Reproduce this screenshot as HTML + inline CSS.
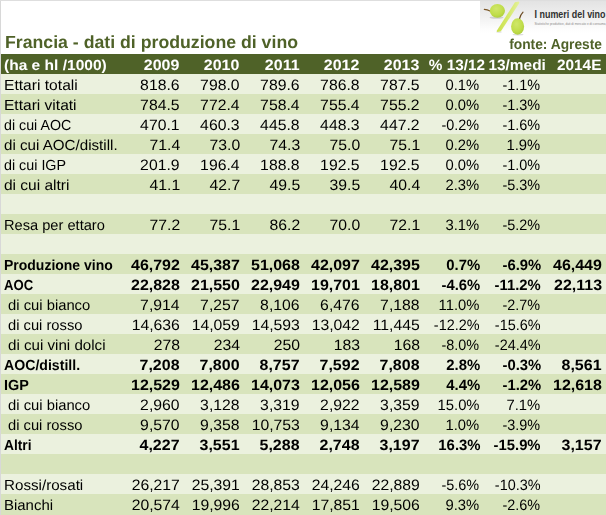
<!DOCTYPE html>
<html><head><meta charset="utf-8"><title>Francia</title>
<style>
html,body{margin:0;padding:0;background:#fff;}
body{width:606px;height:515px;position:relative;overflow:hidden;font-family:"Liberation Sans",sans-serif;color:#000;}
.r{position:absolute;left:0;width:606px;height:20px;}
.a{background:#ebf1de;}
.b{background:#d8e4bc;}
.h{background:#4f6228;color:#fff;font-weight:bold;}
.l{position:absolute;top:2px;height:20px;line-height:21px;font-size:14.6px;white-space:nowrap;text-rendering:geometricPrecision;transform-origin:0 50%;}
.n{position:absolute;top:1px;height:20px;line-height:21px;font-size:15.0px;white-space:nowrap;text-rendering:geometricPrecision;text-align:right;transform-origin:100% 50%;}
.bd{font-weight:bold;}
#title{position:absolute;left:4.54px;top:29.6px;font-size:17.6px;font-weight:bold;color:#4f6228;line-height:24px;white-space:nowrap;text-rendering:geometricPrecision;transform-origin:0 50%;transform:scaleX(1.0059);}
#fonte{position:absolute;right:3.92px;top:35px;font-size:14.4px;font-weight:bold;color:#4f6228;line-height:20px;white-space:nowrap;text-rendering:geometricPrecision;transform-origin:100% 50%;transform:scaleX(0.9569);}
#lb{position:absolute;left:0;top:0;width:1px;height:515px;background:#d8d8d8;}
#tb{position:absolute;left:0;top:0;width:606px;height:1px;background:#dedede;}
#logo{position:absolute;left:480px;top:0;width:126px;height:38px;}
</style></head><body>

<div id="logo"><svg width="126" height="38" viewBox="0 0 126 38">
<defs>
<linearGradient id="g0" x1="0" y1="0" x2="0" y2="1"><stop offset="0" stop-color="#e3e3e3"/><stop offset="0.45" stop-color="#efefef"/><stop offset="0.85" stop-color="#fcfcfc"/><stop offset="1" stop-color="#ffffff"/></linearGradient>
<radialGradient id="g1" cx="0.42" cy="0.35" r="0.75"><stop offset="0" stop-color="#d0e76a"/><stop offset="0.6" stop-color="#c0dd4a"/><stop offset="1" stop-color="#a8c93a"/></radialGradient>
<linearGradient id="g2" x1="0" y1="0" x2="1" y2="0.25"><stop offset="0" stop-color="#c2dc38"/><stop offset="0.55" stop-color="#d4e866"/><stop offset="1" stop-color="#e6f2a4"/></linearGradient>
<filter id="bl" x="-20%" y="-100%" width="140%" height="300%"><feGaussianBlur stdDeviation="0.6"/></filter>
</defs>
<rect x="0" y="1" width="126" height="32" fill="url(#g0)"/>
<ellipse cx="16.5" cy="17.6" rx="7" ry="1.1" fill="#cfcfcf" filter="url(#bl)"/>
<ellipse cx="38" cy="34.6" rx="5.5" ry="0.9" fill="#dcdcdc" filter="url(#bl)"/>
<ellipse cx="19" cy="32" rx="3" ry="0.8" fill="#dedede" filter="url(#bl)"/>
<path d="M35 2.3 L38.8 1.5 L39.5 2.7 L20.9 31.3 L17.3 32.1 L16.6 30.9 Z" fill="url(#g2)"/>
<path d="M4.3 9.4 Q7 9.6 10.6 11.2" stroke="#7a5526" stroke-width="1.1" fill="none" stroke-linecap="round"/>
<ellipse cx="17.4" cy="10.8" rx="7.6" ry="6.9" fill="url(#g1)"/>
<path d="M39.4 19 Q40.4 14.8 43 12.2" stroke="#6b4a22" stroke-width="1.2" fill="none" stroke-linecap="round"/>
<ellipse cx="37.6" cy="26.5" rx="6.5" ry="8.3" fill="url(#g1)"/>
<text x="54.5" y="18" font-family="Liberation Sans, sans-serif" font-weight="bold" font-size="10.5" fill="#303030" textLength="71" lengthAdjust="spacingAndGlyphs">I numeri del vino</text>
<text x="54.5" y="24.6" font-family="Liberation Sans, sans-serif" font-size="3.6" fill="#8a8a8a" textLength="72" lengthAdjust="spacingAndGlyphs">Statistiche produttive, dati di mercato e di consumo,</text>
</svg></div>

<div id="title">Francia - dati di produzione di vino</div>
<div id="fonte">fonte: Agreste</div>
<div class="r h" style="top:54px"><span class="l bd" style="left:3.90px;transform:scaleX(1.0642)">(ha e hl /1000)</span><span class="n bd" style="right:426.4px;transform:scaleX(1.0657)">2009</span><span class="n bd" style="right:366.4px;transform:scaleX(1.0657)">2010</span><span class="n bd" style="right:306.4px;transform:scaleX(1.0657)">2011</span><span class="n bd" style="right:246.4px;transform:scaleX(1.0657)">2012</span><span class="n bd" style="right:186.4px;transform:scaleX(1.0657)">2013</span><span class="n bd" style="right:121.1px;transform:scaleX(1.0218)">% 13/12</span><span class="n bd" style="right:60.3px;transform:scaleX(1.0281)">13/medi</span><span class="n bd" style="right:4.8px;transform:scaleX(1.0243)">2014E</span></div>
<div class="r a" style="top:74px"><span class="l" style="left:4.46px;transform:scaleX(1.0697)">Ettari totali</span><span class="n" style="right:426.1px;transform:scaleX(1.0500)">818.6</span><span class="n" style="right:366.1px;transform:scaleX(1.0500)">798.0</span><span class="n" style="right:306.1px;transform:scaleX(1.0500)">789.6</span><span class="n" style="right:246.1px;transform:scaleX(1.0500)">786.8</span><span class="n" style="right:186.1px;transform:scaleX(1.0500)">787.5</span><span class="n" style="right:126.5px;transform:scaleX(0.9870)">0.1%</span><span class="n" style="right:65.5px;transform:scaleX(0.9608)">-1.1%</span></div>
<div class="r b" style="top:94px"><span class="l" style="left:4.47px;transform:scaleX(1.0652)">Ettari vitati</span><span class="n" style="right:426.1px;transform:scaleX(1.0500)">784.5</span><span class="n" style="right:366.1px;transform:scaleX(1.0500)">772.4</span><span class="n" style="right:306.1px;transform:scaleX(1.0500)">758.4</span><span class="n" style="right:246.1px;transform:scaleX(1.0500)">755.4</span><span class="n" style="right:186.1px;transform:scaleX(1.0500)">755.2</span><span class="n" style="right:126.5px;transform:scaleX(0.9870)">0.0%</span><span class="n" style="right:65.5px;transform:scaleX(0.9608)">-1.3%</span></div>
<div class="r a" style="top:114px"><span class="l" style="left:4.21px;transform:scaleX(0.9756)">di cui AOC</span><span class="n" style="right:426.1px;transform:scaleX(1.0500)">470.1</span><span class="n" style="right:366.1px;transform:scaleX(1.0500)">460.3</span><span class="n" style="right:306.1px;transform:scaleX(1.0500)">445.8</span><span class="n" style="right:246.1px;transform:scaleX(1.0500)">448.3</span><span class="n" style="right:186.1px;transform:scaleX(1.0500)">447.2</span><span class="n" style="right:126.5px;transform:scaleX(0.9608)">-0.2%</span><span class="n" style="right:65.5px;transform:scaleX(0.9608)">-1.6%</span></div>
<div class="r b" style="top:134px"><span class="l" style="left:4.18px;transform:scaleX(1.0376)">di cui AOC/distill.</span><span class="n" style="right:426.1px;transform:scaleX(1.0500)">71.4</span><span class="n" style="right:366.1px;transform:scaleX(1.0500)">73.0</span><span class="n" style="right:306.1px;transform:scaleX(1.0500)">74.3</span><span class="n" style="right:246.1px;transform:scaleX(1.0500)">75.0</span><span class="n" style="right:186.1px;transform:scaleX(1.0500)">75.1</span><span class="n" style="right:126.5px;transform:scaleX(0.9870)">0.2%</span><span class="n" style="right:65.5px;transform:scaleX(0.9870)">1.9%</span></div>
<div class="r a" style="top:154px"><span class="l" style="left:4.21px;transform:scaleX(0.9806)">di cui IGP</span><span class="n" style="right:426.1px;transform:scaleX(1.0500)">201.9</span><span class="n" style="right:366.1px;transform:scaleX(1.0500)">196.4</span><span class="n" style="right:306.1px;transform:scaleX(1.0500)">188.8</span><span class="n" style="right:246.1px;transform:scaleX(1.0500)">192.5</span><span class="n" style="right:186.1px;transform:scaleX(1.0500)">192.5</span><span class="n" style="right:126.5px;transform:scaleX(0.9870)">0.0%</span><span class="n" style="right:65.5px;transform:scaleX(0.9608)">-1.0%</span></div>
<div class="r b" style="top:174px"><span class="l" style="left:4.17px;transform:scaleX(1.0622)">di cui altri</span><span class="n" style="right:426.1px;transform:scaleX(1.0500)">41.1</span><span class="n" style="right:366.1px;transform:scaleX(1.0500)">42.7</span><span class="n" style="right:306.1px;transform:scaleX(1.0500)">49.5</span><span class="n" style="right:246.1px;transform:scaleX(1.0500)">39.5</span><span class="n" style="right:186.1px;transform:scaleX(1.0500)">40.4</span><span class="n" style="right:126.5px;transform:scaleX(0.9870)">2.3%</span><span class="n" style="right:65.5px;transform:scaleX(0.9608)">-5.3%</span></div>
<div class="r a" style="top:194px"></div>
<div class="r b" style="top:214px"><span class="l" style="left:4.45px;transform:scaleX(1.0025)">Resa per ettaro</span><span class="n" style="right:426.1px;transform:scaleX(1.0500)">77.2</span><span class="n" style="right:366.1px;transform:scaleX(1.0500)">75.1</span><span class="n" style="right:306.1px;transform:scaleX(1.0500)">86.2</span><span class="n" style="right:246.1px;transform:scaleX(1.0500)">70.0</span><span class="n" style="right:186.1px;transform:scaleX(1.0500)">72.1</span><span class="n" style="right:126.5px;transform:scaleX(0.9870)">3.1%</span><span class="n" style="right:65.5px;transform:scaleX(0.9608)">-5.2%</span></div>
<div class="r a" style="top:234px"></div>
<div class="r b" style="top:254px"><span class="l bd" style="left:3.74px;transform:scaleX(0.9580)">Produzione vino</span><span class="n bd" style="right:426.1px;transform:scaleX(1.0657)">46,792</span><span class="n bd" style="right:366.1px;transform:scaleX(1.0657)">45,387</span><span class="n bd" style="right:306.1px;transform:scaleX(1.0657)">51,068</span><span class="n bd" style="right:246.1px;transform:scaleX(1.0657)">42,097</span><span class="n bd" style="right:186.1px;transform:scaleX(1.0657)">42,395</span><span class="n bd" style="right:125.9px;transform:scaleX(0.9922)">0.7%</span><span class="n bd" style="right:65.1px;transform:scaleX(0.9870)">-6.9%</span><span class="n bd" style="right:4.1px;transform:scaleX(1.0657)">46,449</span></div>
<div class="r a" style="top:274px"><span class="l bd" style="left:3.85px;transform:scaleX(0.8984)">AOC</span><span class="n bd" style="right:426.1px;transform:scaleX(1.0657)">22,828</span><span class="n bd" style="right:366.1px;transform:scaleX(1.0657)">21,550</span><span class="n bd" style="right:306.1px;transform:scaleX(1.0657)">22,949</span><span class="n bd" style="right:246.1px;transform:scaleX(1.0657)">19,701</span><span class="n bd" style="right:186.1px;transform:scaleX(1.0657)">18,801</span><span class="n bd" style="right:125.9px;transform:scaleX(0.9870)">-4.6%</span><span class="n bd" style="right:65.1px;transform:scaleX(0.9870)">-11.2%</span><span class="n bd" style="right:4.1px;transform:scaleX(1.0657)">22,113</span></div>
<div class="r b" style="top:294px"><span class="l" style="left:8.09px;transform:scaleX(1.0138)">di cui bianco</span><span class="n" style="right:426.1px;transform:scaleX(1.0500)">7,914</span><span class="n" style="right:366.1px;transform:scaleX(1.0500)">7,257</span><span class="n" style="right:306.1px;transform:scaleX(1.0500)">8,106</span><span class="n" style="right:246.1px;transform:scaleX(1.0500)">6,476</span><span class="n" style="right:186.1px;transform:scaleX(1.0500)">7,188</span><span class="n" style="right:126.5px;transform:scaleX(0.9870)">11.0%</span><span class="n" style="right:65.5px;transform:scaleX(0.9608)">-2.7%</span></div>
<div class="r a" style="top:314px"><span class="l" style="left:8.10px;transform:scaleX(1.0089)">di cui rosso</span><span class="n" style="right:426.1px;transform:scaleX(1.0500)">14,636</span><span class="n" style="right:366.1px;transform:scaleX(1.0500)">14,059</span><span class="n" style="right:306.1px;transform:scaleX(1.0500)">14,593</span><span class="n" style="right:246.1px;transform:scaleX(1.0500)">13,042</span><span class="n" style="right:186.1px;transform:scaleX(1.0500)">11,445</span><span class="n" style="right:126.5px;transform:scaleX(0.9608)">-12.2%</span><span class="n" style="right:65.5px;transform:scaleX(0.9608)">-15.6%</span></div>
<div class="r b" style="top:334px"><span class="l" style="left:8.08px;transform:scaleX(1.0361)">di cui vini dolci</span><span class="n" style="right:426.1px;transform:scaleX(1.0500)">278</span><span class="n" style="right:366.1px;transform:scaleX(1.0500)">234</span><span class="n" style="right:306.1px;transform:scaleX(1.0500)">250</span><span class="n" style="right:246.1px;transform:scaleX(1.0500)">183</span><span class="n" style="right:186.1px;transform:scaleX(1.0500)">168</span><span class="n" style="right:126.5px;transform:scaleX(0.9608)">-8.0%</span><span class="n" style="right:65.5px;transform:scaleX(0.9608)">-24.4%</span></div>
<div class="r a" style="top:354px"><span class="l bd" style="left:3.82px;transform:scaleX(0.9675)">AOC/distill.</span><span class="n bd" style="right:426.1px;transform:scaleX(1.0657)">7,208</span><span class="n bd" style="right:366.1px;transform:scaleX(1.0657)">7,800</span><span class="n bd" style="right:306.1px;transform:scaleX(1.0657)">8,757</span><span class="n bd" style="right:246.1px;transform:scaleX(1.0657)">7,592</span><span class="n bd" style="right:186.1px;transform:scaleX(1.0657)">7,808</span><span class="n bd" style="right:125.9px;transform:scaleX(0.9922)">2.8%</span><span class="n bd" style="right:65.1px;transform:scaleX(0.9870)">-0.3%</span><span class="n bd" style="right:4.1px;transform:scaleX(1.0657)">8,561</span></div>
<div class="r b" style="top:374px"><span class="l bd" style="left:3.71px;transform:scaleX(0.9872)">IGP</span><span class="n bd" style="right:426.1px;transform:scaleX(1.0657)">12,529</span><span class="n bd" style="right:366.1px;transform:scaleX(1.0657)">12,486</span><span class="n bd" style="right:306.1px;transform:scaleX(1.0657)">14,073</span><span class="n bd" style="right:246.1px;transform:scaleX(1.0657)">12,056</span><span class="n bd" style="right:186.1px;transform:scaleX(1.0657)">12,589</span><span class="n bd" style="right:125.9px;transform:scaleX(0.9922)">4.4%</span><span class="n bd" style="right:65.1px;transform:scaleX(0.9870)">-1.2%</span><span class="n bd" style="right:4.1px;transform:scaleX(1.0657)">12,618</span></div>
<div class="r a" style="top:394px"><span class="l" style="left:8.09px;transform:scaleX(1.0138)">di cui bianco</span><span class="n" style="right:426.1px;transform:scaleX(1.0500)">2,960</span><span class="n" style="right:366.1px;transform:scaleX(1.0500)">3,128</span><span class="n" style="right:306.1px;transform:scaleX(1.0500)">3,319</span><span class="n" style="right:246.1px;transform:scaleX(1.0500)">2,922</span><span class="n" style="right:186.1px;transform:scaleX(1.0500)">3,359</span><span class="n" style="right:126.5px;transform:scaleX(0.9870)">15.0%</span><span class="n" style="right:65.5px;transform:scaleX(0.9870)">7.1%</span></div>
<div class="r b" style="top:414px"><span class="l" style="left:8.10px;transform:scaleX(1.0089)">di cui rosso</span><span class="n" style="right:426.1px;transform:scaleX(1.0500)">9,570</span><span class="n" style="right:366.1px;transform:scaleX(1.0500)">9,358</span><span class="n" style="right:306.1px;transform:scaleX(1.0500)">10,753</span><span class="n" style="right:246.1px;transform:scaleX(1.0500)">9,134</span><span class="n" style="right:186.1px;transform:scaleX(1.0500)">9,230</span><span class="n" style="right:126.5px;transform:scaleX(0.9870)">1.0%</span><span class="n" style="right:65.5px;transform:scaleX(0.9608)">-3.9%</span></div>
<div class="r a" style="top:434px"><span class="l bd" style="left:3.83px;transform:scaleX(0.9441)">Altri</span><span class="n bd" style="right:426.1px;transform:scaleX(1.0657)">4,227</span><span class="n bd" style="right:366.1px;transform:scaleX(1.0657)">3,551</span><span class="n bd" style="right:306.1px;transform:scaleX(1.0657)">5,288</span><span class="n bd" style="right:246.1px;transform:scaleX(1.0657)">2,748</span><span class="n bd" style="right:186.1px;transform:scaleX(1.0657)">3,197</span><span class="n bd" style="right:125.9px;transform:scaleX(0.9922)">16.3%</span><span class="n bd" style="right:65.1px;transform:scaleX(0.9870)">-15.9%</span><span class="n bd" style="right:4.1px;transform:scaleX(1.0657)">3,157</span></div>
<div class="r b" style="top:454px"></div>
<div class="r a" style="top:474px"><span class="l" style="left:4.40px;transform:scaleX(1.0392)">Rossi/rosati</span><span class="n" style="right:426.1px;transform:scaleX(1.0500)">26,217</span><span class="n" style="right:366.1px;transform:scaleX(1.0500)">25,391</span><span class="n" style="right:306.1px;transform:scaleX(1.0500)">28,853</span><span class="n" style="right:246.1px;transform:scaleX(1.0500)">24,246</span><span class="n" style="right:186.1px;transform:scaleX(1.0500)">22,889</span><span class="n" style="right:126.5px;transform:scaleX(0.9608)">-5.6%</span><span class="n" style="right:65.5px;transform:scaleX(0.9608)">-10.3%</span></div>
<div class="r b" style="top:494px"><span class="l" style="left:4.42px;transform:scaleX(1.0251)">Bianchi</span><span class="n" style="right:426.1px;transform:scaleX(1.0500)">20,574</span><span class="n" style="right:366.1px;transform:scaleX(1.0500)">19,996</span><span class="n" style="right:306.1px;transform:scaleX(1.0500)">22,214</span><span class="n" style="right:246.1px;transform:scaleX(1.0500)">17,851</span><span class="n" style="right:186.1px;transform:scaleX(1.0500)">19,506</span><span class="n" style="right:126.5px;transform:scaleX(0.9870)">9.3%</span><span class="n" style="right:65.5px;transform:scaleX(0.9608)">-2.6%</span></div>
<div class="r b" style="top:514px;height:1px"></div>
<div id="lb"></div><div id="tb"></div>
</body></html>
